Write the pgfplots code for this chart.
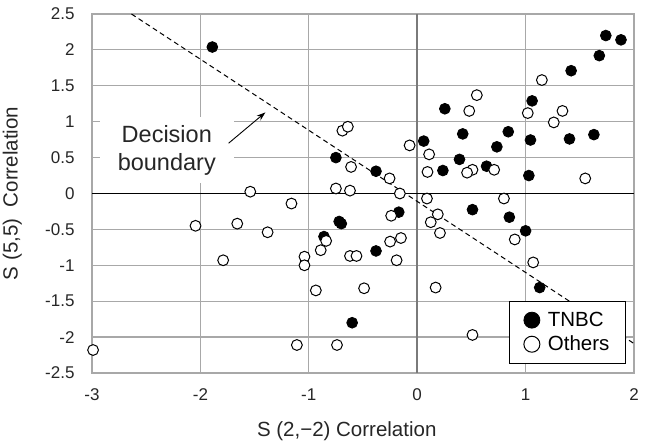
\documentclass[border=0pt]{standalone}
\usepackage{fontspec}
\setmainfont{Liberation Sans}
\usepackage{pgfplots}
\pgfplotsset{compat=1.18}
\usetikzlibrary{arrows.meta}

\definecolor{gridgray}{HTML}{A8A8A8}
\definecolor{axgray}{HTML}{7A7A7A}

\begin{document}
\begin{tikzpicture}
\begin{axis}[
    scale only axis,
    width=542pt, height=359pt,
    xmin=-3, xmax=2, ymin=-2.5, ymax=2.5,
    xtick={-3,-2,-1,0,1,2},
    ytick={-2.5,-2,-1.5,-1,-0.5,0,0.5,1,1.5,2,2.5},
    major tick length=0pt,
    grid=major,
    grid style={gridgray, line width=1.2pt},
    axis line style={gridgray, line width=1.2pt},
    /pgf/number format/assume math mode=true,
    tick label style={font=\fontsize{17}{17}\selectfont, text=black!85},
    xticklabel style={yshift=-12pt},
    yticklabel style={xshift=-14pt},
    xlabel={S (2,−2) Correlation},
    ylabel={S (5,5)\ \ Correlation},
    label style={font=\fontsize{20.5}{22}\selectfont, text=black!85},
    xlabel style={at={(axis description cs:0.47,-0.1616)}, anchor=center},
    ylabel style={at={(axis description cs:-0.147,0.5)}, anchor=center},
    legend style={at={(rel axis cs:1,0)}, anchor=south east,
        xshift=-8pt, yshift=9pt, draw=black, line width=1.2pt, fill=white,
        font=\fontsize{20.5}{22}\selectfont, inner xsep=14pt, inner ysep=9pt,
        row sep=4pt, /tikz/every odd column/.append style={column sep=6pt}},
    legend cell align=left,
]
\draw[axgray, line width=1.5pt] (axis cs:0,-2.5) -- (axis cs:0,2.5);
\draw[black, line width=1.9pt] (axis cs:-3,0) -- (axis cs:2,0);
\addplot[black, line width=1pt, dash pattern=on 5pt off 3.5pt, forget plot]
    coordinates {(-2.636,2.5) (2,-2.09)};

\node[fill=white, align=center, inner xsep=18pt, inner ysep=8pt,
      font=\fontsize{23.5}{28}\selectfont, text=black!85]
    at (axis cs:-2.31,0.60) {Decision\\boundary};
\draw[black, line width=0.9pt, -{Stealth[length=9pt,width=6pt]}]
    (axis cs:-1.74,0.70) -- (axis cs:-1.40,1.13);

\addplot[only marks, mark=*, mark size=5.4pt, mark options={fill=black, draw=black, line width=0.8pt},
    legend image post style={mark size=8pt}]
coordinates {
(-1.89,2.04) (1.74,2.20) (1.88,2.14) (1.68,1.92) (1.42,1.71)
(1.06,1.29) (0.255,1.18) (0.84,0.86) (0.42,0.83) (1.045,0.745)
(1.405,0.76) (1.63,0.82) (0.06,0.73) (0.735,0.65) (-0.75,0.50)
(0.39,0.475) (0.64,0.38) (0.237,0.32) (-0.38,0.31) (1.03,0.25)
(0.51,-0.225) (0.85,-0.33) (-0.17,-0.26) (-0.72,-0.39) (-0.70,-0.42)
(-0.86,-0.60) (-0.38,-0.80) (1.00,-0.52) (1.13,-1.31) (-0.60,-1.80)
};
\addlegendentry{TNBC}

\addplot[only marks, mark=*, mark size=5.4pt, mark options={fill=white, draw=black, line width=1pt},
    legend image post style={mark size=8pt}]
coordinates {
(1.15,1.58) (0.55,1.37) (0.48,1.15) (1.02,1.12) (1.34,1.15)
(1.26,0.99) (-0.69,0.875) (-0.64,0.93) (-0.07,0.67) (0.11,0.545)
(-0.61,0.37) (0.71,0.33) (0.51,0.33) (0.46,0.29) (0.095,0.30)
(1.55,0.21) (-0.255,0.21) (-1.54,0.025) (-0.75,0.07) (-0.62,0.04)
(-0.16,0.0) (0.09,-0.07) (0.80,-0.07) (-1.16,-0.14) (-2.045,-0.45)
(-1.66,-0.42) (-1.38,-0.54) (-0.84,-0.66) (-0.89,-0.79) (-1.79,-0.93)
(-1.04,-0.88) (-1.04,-1.00) (-0.62,-0.87) (-0.56,-0.87) (-0.935,-1.35)
(-0.24,-0.31) (0.19,-0.29) (0.125,-0.40) (0.21,-0.55) (0.90,-0.64)
(-0.25,-0.67) (-0.15,-0.62) (-0.19,-0.93) (1.07,-0.96) (-0.49,-1.32)
(0.17,-1.31) (0.51,-1.97) (-2.99,-2.18) (-1.11,-2.11) (-0.74,-2.11)
};
\addlegendentry{Others}
\end{axis}
\pgfresetboundingbox
\path (-92pt,-70pt) rectangle (556pt,373pt);
\end{tikzpicture}
\end{document}
